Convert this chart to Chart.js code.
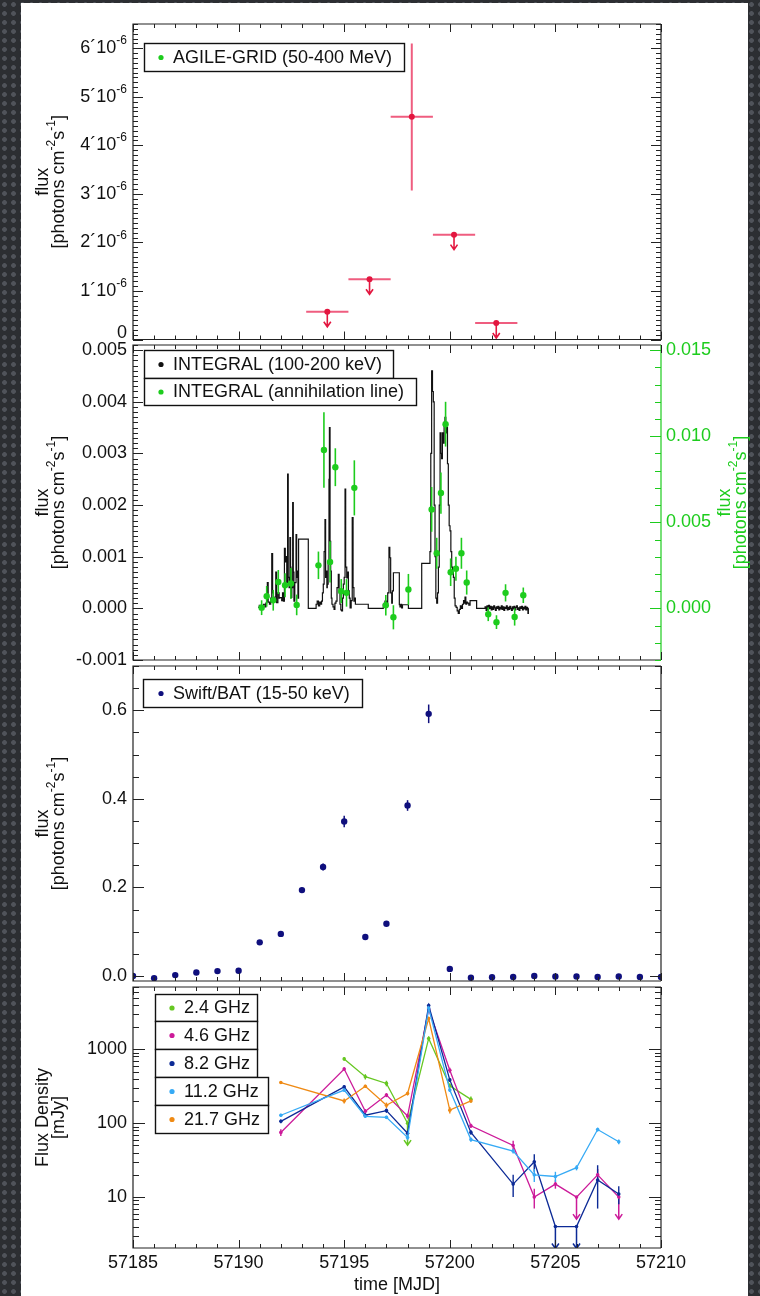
<!DOCTYPE html>
<html>
<head>
<meta charset="utf-8">
<script src="https://cdn.jsdelivr.net/npm/chart.js@4.4.1/dist/chart.umd.min.js"></script>
<style>
  html, body { margin: 0; padding: 0; }
  body {
    width: 760px; height: 1296px; position: relative; overflow: hidden;
    background-color: #2c2e32;
    background-image: radial-gradient(circle, #50535a 0, #50535a 2px, transparent 2.7px);
    background-size: 9px 9px;
  }
  #sheet { position: absolute; left: 21px; top: 3px; width: 727px; height: 1293px; background: #fff; }
  canvas { position: absolute; left: 0; top: 0; }
</style>
</head>
<body>
<div id="sheet"></div>
<canvas id="agile" width="760" height="1296"></canvas>
<canvas id="integral" width="760" height="1296"></canvas>
<canvas id="swift" width="760" height="1296"></canvas>
<canvas id="radio" width="760" height="1296"></canvas>
<script>
const FONT = "'Liberation Sans', Arial, Helvetica, sans-serif";
Chart.defaults.font.family = FONT;
Chart.defaults.font.size = 18;
Chart.defaults.color = '#111';

// ---- shared time axis ----
const X_MIN = 57185, X_MAX = 57210;
const xTickLabels = [57185, 57190, 57195, 57200, 57205, 57210];

// ---- AGILE-GRID (50-400 MeV) ----
const agileMjd = [57194.2, 57196.2, 57198.2, 57200.2, 57202.2];
const agileFlux = [0.57e-6, 1.24e-6, 4.59e-6, 2.16e-6, 0.34e-6];
const agileHalfBin = [1, 1, 1, 1, 1];
const agileLow = [null, null, 3.07e-6, null, null];
const agileHigh = [null, null, 6.1e-6, null, null];
const agileUL = [true, true, false, true, true];
const agileTicks = [0, 1e-6, 2e-6, 3e-6, 4e-6, 5e-6, 6e-6];
const agileTickMant = ['0', '1', '2', '3', '4', '5', '6'];

// ---- INTEGRAL 100-200 keV light curve (days after MJD 57185) ----
const intDay = [
  5.93, 5.98, 6.03, 6.08, 6.13, 6.18, 6.25, 6.29, 6.33, 6.36, 6.40, 6.46, 6.52, 6.57, 6.61, 6.65,
  6.72, 6.76, 6.80, 6.86, 6.92, 6.96, 7.04, 7.08, 7.12, 7.17, 7.21, 7.23, 7.28, 7.32, 7.35, 7.39,
  7.43, 7.46, 7.48, 7.52, 7.56, 7.59, 7.62, 7.66, 7.72, 7.75, 7.78, 7.81, 7.84, 8.30, 8.67, 8.72,
  8.78, 8.84, 8.88, 8.93, 8.97, 9.01, 9.05, 9.09, 9.12, 9.14, 9.18, 9.20, 9.24, 9.28, 9.30, 9.33,
  9.36, 9.39, 9.42, 9.47, 9.52, 9.56, 9.61, 9.66, 9.72, 9.76, 9.80, 9.84, 9.88, 9.92, 9.96, 10.00,
  10.04, 10.07, 10.12, 10.16, 10.20, 10.24, 10.28, 10.33, 10.38, 10.42, 10.46, 10.50, 10.53, 11.14,
  11.85, 11.93, 12.01, 12.06, 12.12, 12.16, 12.20, 12.25, 12.28, 12.33, 12.61, 12.64, 12.68, 12.72,
  12.76, 13.04, 13.67, 14.06, 14.10, 14.14, 14.18, 14.22, 14.26, 14.30, 14.34, 14.38, 14.42, 14.46,
  14.50, 14.54, 14.58, 14.61, 14.65, 14.69, 14.73, 14.77, 14.81, 14.85, 14.89, 14.93, 14.97, 15.01,
  15.05, 15.09, 15.13, 15.17, 15.21, 15.25, 15.30, 15.35, 15.40, 15.45, 15.50, 15.56, 15.60, 15.65,
  15.70, 15.72, 15.76, 15.80, 15.83, 15.90, 15.96, 16.27, 16.67, 16.72, 16.76, 16.80, 16.84, 16.88,
  16.92, 16.96, 17.00, 17.04, 17.08, 17.12, 17.16, 17.20, 17.24, 17.28, 17.32, 17.36, 17.40, 17.44,
  17.48, 17.52, 17.56, 17.60, 17.64, 17.68, 17.72, 17.76, 17.80, 17.84, 17.88, 17.92, 17.96, 18.00,
  18.04, 18.08, 18.12, 18.16, 18.20, 18.24, 18.28, 18.32, 18.36, 18.40, 18.44, 18.48, 18.52, 18.56,
  18.60, 18.64, 18.68, 18.70, 18.72
];
const intFlux = [
  0.00002, 0.00006, -0.00002, 0.00005, 0.00001, 0.00008, 0.00003, 0.00010, 0.00014, 0.00050, 0.00012, 0.00008, 0.00020, 0.00106, 0.00030, 0.00015,
  0.00022, 0.00070, 0.00011, 0.00030, 0.00020, 0.00021, 0.00015, 0.00030, 0.00014, 0.00116, 0.00090, 0.00100, 0.00050, 0.00260, 0.00060, 0.00040,
  0.00137, 0.00080, 0.00021, 0.00040, 0.00205, 0.00070, 0.00014, 0.00050, 0.00143, 0.00060, 0.00072, 0.00020, 0.00134, 0.00000, 0.00008, 0.00014,
  0.00005, 0.00012, 0.00008, 0.00014, 0.00030, 0.00047, 0.00110, 0.00172, 0.00060, 0.00072, 0.00040, 0.00047, 0.00090, 0.00250, 0.00350, 0.00130,
  0.00072, 0.00020, 0.00008, 0.00003, -0.00002, 0.00010, 0.00014, 0.00040, 0.00066, 0.00030, 0.00008, -0.00003, -0.00005, 0.00020, 0.00047, 0.00060,
  0.00231, 0.00080, 0.00059, 0.00070, 0.00034, 0.00020, 0.00001, 0.00015, 0.00176, 0.00040, 0.00014, 0.00020, 0.00008, 0.00000,
  0.00008, 0.00014, 0.00010, 0.00030, 0.00118, 0.00098, 0.00030, 0.00010, 0.00034, 0.00069, 0.00007, 0.00003, 0.00008, 0.00001,
  0.00007, 0.00000, 0.00087, 0.00110, 0.00300, 0.00460, 0.00420, 0.00400, 0.00200, 0.00100, 0.00020, 0.00010, 0.00030, 0.00080,
  0.00200, 0.00340, 0.00300, 0.00290, 0.00340, 0.00320, 0.00360, 0.00370, 0.00340, 0.00350, 0.00280, 0.00200, 0.00160, 0.00150,
  0.00110, 0.00080, 0.00070, 0.00060, 0.00020, 0.00005, 0.00002, -0.00005, -0.00010, -0.00002, 0.00005, 0.00000, 0.00008, 0.00015,
  0.00010, 0.00022, 0.00008, 0.00012, 0.00010, 0.00006, 0.00015, 0.00000, 0.00003, -0.00004, 0.00005, -0.00002, 0.00006, 0.00000,
  0.00004, -0.00003, 0.00003, -0.00002, 0.00005, 0.00001, -0.00004, 0.00003, 0.00000, 0.00004, -0.00003, 0.00002, -0.00001, 0.00005,
  -0.00002, 0.00003, -0.00004, 0.00002, 0.00000, 0.00005, -0.00003, 0.00002, -0.00002, 0.00004, 0.00000, -0.00004, 0.00003, -0.00001,
  0.00004, -0.00003, 0.00002, 0.00005, -0.00002, 0.00001, -0.00004, 0.00003, 0.00000, 0.00004, -0.00003, 0.00002, -0.00001, 0.00004,
  -0.00003, 0.00002, 0.00000, -0.00010, 0.00000
];

// ---- INTEGRAL annihilation line (right axis) ----
const annDay = [6.09, 6.33, 6.64, 6.88, 7.20, 7.48, 7.75, 8.78, 9.04, 9.33, 9.58, 9.86, 10.11, 10.48, 11.97,
  12.33, 13.04, 14.14, 14.38, 14.58, 14.80, 15.04, 15.29, 15.55, 15.80, 16.82, 17.21, 17.64, 18.07, 18.48];
const annFlux = [0.00004, 0.0007, 0.00047, 0.00153, 0.00134, 0.00144, 0.0002, 0.0025, 0.0092, 0.0027, 0.0082, 0.0010, 0.0009, 0.0070, 0.00018,
  -0.00052, 0.0011, 0.00575, 0.0032, 0.0067, 0.0107, 0.0021, 0.0023, 0.0032, 0.0015, -0.00034, -0.0008, 0.0009, -0.0005, 0.00076];
const annErr = [0.00043, 0.0006, 0.0006, 0.0007, 0.0007, 0.0009, 0.0006, 0.0008, 0.0022, 0.0012, 0.0011, 0.0007, 0.0008, 0.0016, 0.0006,
  0.0007, 0.0009, 0.0013, 0.0009, 0.0012, 0.0013, 0.0008, 0.0007, 0.0009, 0.0007, 0.0004, 0.0004, 0.0005, 0.0005, 0.00045];
const intLeftTicks = [-0.001, 0, 0.001, 0.002, 0.003, 0.004, 0.005];
const annRightTicks = [0, 0.005, 0.010, 0.015];

// ---- Swift/BAT (15-50 keV) ----
const batMjd = [57185, 57186, 57187, 57188, 57189, 57190, 57191, 57192, 57193, 57194, 57195, 57196, 57197,
  57198, 57199, 57200, 57201, 57202, 57203, 57204, 57205, 57206, 57207, 57208, 57209, 57210];
const batFlux = [0.000, -0.005, 0.002, 0.008, 0.011, 0.012, 0.076, 0.095, 0.194, 0.246, 0.349, 0.088, 0.118,
  0.385, 0.592, 0.016, -0.004, -0.003, -0.002, 0.000, -0.001, -0.001, -0.002, -0.001, -0.002, -0.002];
const batErr = [0.003, 0.003, 0.003, 0.003, 0.003, 0.003, 0.004, 0.004, 0.005, 0.008, 0.013, 0.004, 0.004,
  0.012, 0.021, 0.003, 0.003, 0.003, 0.003, 0.003, 0.003, 0.003, 0.003, 0.003, 0.003, 0.003];
const batTicks = [0, 0.2, 0.4, 0.6];

// ---- Radio flux densities (mJy) ----
const r24Day = [57195, 57196, 57197, 57198, 57199, 57200, 57201];
const r24Flux = [740, 425, 345, 100, 1400, 320, 210];
const r24Err = [40, 35, 30, 0, 100, 25, 20];
const r24UL = [0, 0, 0, 1, 0, 0, 0];

const r46Day = [57192, 57195, 57196, 57197, 57198, 57199, 57200, 57201, 57203, 57204, 57205, 57206, 57207, 57208];
const r46Flux = [75, 540, 145, 240, 125, 3500, 520, 92, 50, 10, 15, 10, 20, 10];
const r46Err = [8, 30, 10, 15, 10, 200, 40, 6, 8, 3, 2, 0, 4, 0];
const r46UL = [0, 0, 0, 0, 0, 0, 0, 0, 0, 0, 0, 1, 0, 1];

const r82Day = [57192, 57195, 57196, 57197, 57198, 57199, 57200, 57201, 57203, 57204, 57205, 57206, 57207, 57208];
const r82Flux = [106, 310, 128, 148, 73, 3900, 385, 75, 15, 30, 4, 4, 17, 11];
const r82Err = [6, 15, 8, 10, 6, 250, 25, 5, 5, 8, 0, 0, 10, 3];
const r82UL = [0, 0, 0, 0, 0, 0, 0, 0, 0, 0, 1, 1, 0, 0];

const r112Day = [57192, 57195, 57196, 57197, 57198, 57199, 57200, 57201, 57203, 57204, 57205, 57206, 57207, 57208];
const r112Flux = [128, 280, 124, 120, 64, 3600, 280, 60, 42, 20, 19, 25, 82, 56];
const r112Err = [6, 15, 6, 6, 5, 250, 15, 4, 3, 4, 3, 2, 5, 4];
const r112UL = [0, 0, 0, 0, 0, 0, 0, 0, 0, 0, 0, 0, 0, 0];

const r217Day = [57192, 57195, 57196, 57197, 57198, 57199, 57200, 57201];
const r217Flux = [355, 200, 316, 175, 252, 2600, 150, 200];
const r217Err = [15, 15, 15, 15, 15, 150, 15, 10];
const r217UL = [0, 0, 0, 0, 0, 0, 0, 0];

const radioNames = ['2.4 GHz', '4.6 GHz', '8.2 GHz', '11.2 GHz', '21.7 GHz'];
const radioTicks = [10, 100, 1000];

// ---- colours ----
const AGILE_RED = '#e3163f', AGILE_BAR = '#ef5d7f';
const GREEN = '#1dcc1d';
const NAVY = '#0f0f7d';
const radioColors = ['#66c722', '#cc1a99', '#0c2a96', '#36aaf5', '#ef8a14'];
const FRAME = '#222';

// ---- layout (pixels of the page) ----
const LEFT_W = 133, RIGHT_W = 99, PAGE_H = 1296;

// ---------- drawing helpers ----------
function steps(lo, hi, step) {
  const out = [];
  for (let i = Math.ceil(lo / step - 1e-9); i * step <= hi + step * 1e-6; i++) out.push(i * step);
  return out;
}
const xMinor = steps(X_MIN, X_MAX, 1);

function tickMarks(ctx, scale, a, vals, len, side, color) {
  ctx.save();
  ctx.strokeStyle = color;
  ctx.lineWidth = 1;
  ctx.beginPath();
  vals.forEach(v => {
    const p = scale.getPixelForValue(v);
    if (side === 'top' || side === 'bottom') {
      if (p < a.left - 0.5 || p > a.right + 0.5) return;
      const q = Math.round(p) + 0.5;
      if (side === 'bottom') { ctx.moveTo(q, a.bottom); ctx.lineTo(q, a.bottom - len); }
      else { ctx.moveTo(q, a.top); ctx.lineTo(q, a.top + len); }
    } else {
      if (p < a.top - 0.5 || p > a.bottom + 0.5) return;
      const q = Math.round(p) + 0.5;
      if (side === 'left') { ctx.moveTo(a.left, q); ctx.lineTo(a.left + len, q); }
      else { ctx.moveTo(a.right, q); ctx.lineTo(a.right - len, q); }
    }
  });
  ctx.stroke();
  ctx.restore();
}

function xTicks(ctx, chart) {
  const a = chart.chartArea, xs = chart.scales.x;
  ['top', 'bottom'].forEach(side => {
    tickMarks(ctx, xs, a, xMinor, 4, side, FRAME);
    tickMarks(ctx, xs, a, xTickLabels, 8, side, FRAME);
  });
}

function frame(ctx, a, rightColor) {
  ctx.save();
  ctx.lineWidth = 1.2;
  ctx.strokeStyle = FRAME;
  ctx.beginPath();
  ctx.moveTo(a.right, a.top); ctx.lineTo(a.left, a.top);
  ctx.lineTo(a.left, a.bottom); ctx.lineTo(a.right, a.bottom);
  ctx.stroke();
  ctx.strokeStyle = rightColor || FRAME;
  ctx.beginPath(); ctx.moveTo(a.right, a.top); ctx.lineTo(a.right, a.bottom); ctx.stroke();
  ctx.restore();
}

function drawRich(ctx, segs, x, y, align, color, size) {
  const big = size + 'px ' + FONT, small = Math.round(size * 0.68) + 'px ' + FONT;
  let w = 0;
  segs.forEach(s => { ctx.font = s.sup ? small : big; s.w = ctx.measureText(s.t).width; w += s.w; });
  let cx = align === 'right' ? x - w : align === 'center' ? x - w / 2 : x;
  ctx.fillStyle = color;
  ctx.textAlign = 'left';
  ctx.textBaseline = 'middle';
  segs.forEach(s => {
    ctx.font = s.sup ? small : big;
    ctx.fillText(s.t, cx, s.sup ? y - size * 0.4 : y);
    cx += s.w;
  });
}

const unitSegs = [{ t: '[photons cm' }, { t: '-2', sup: true }, { t: 's' }, { t: '-1', sup: true }, { t: ']' }];

function yTitle(ctx, cx, cy, line1, line2Segs, color) {
  ctx.save();
  ctx.translate(cx, cy);
  ctx.rotate(-Math.PI / 2);
  drawRich(ctx, [{ t: line1 }], 0, -8, 'center', color, 18);
  drawRich(ctx, line2Segs, 0, 8, 'center', color, 18);
  ctx.restore();
}

function legendBox(ctx, x0, y0, x1, y1, dotX, dotColor, text) {
  ctx.save();
  ctx.fillStyle = '#fff';
  ctx.fillRect(x0, y0, x1 - x0, y1 - y0);
  ctx.strokeStyle = '#111';
  ctx.lineWidth = 1.4;
  ctx.strokeRect(x0 + 0.5, y0 + 0.5, x1 - x0, y1 - y0);
  ctx.fillStyle = dotColor;
  ctx.beginPath();
  ctx.arc(dotX, (y0 + y1) / 2 + 0.5, 2.6, 0, Math.PI * 2);
  ctx.fill();
  ctx.font = '18px ' + FONT;
  ctx.fillStyle = '#111';
  ctx.textAlign = 'left';
  ctx.textBaseline = 'middle';
  ctx.fillText(text, dotX + 12, (y0 + y1) / 2 + 1);
  ctx.restore();
}

function arrowDown(ctx, x, y, len, color, width) {
  ctx.save();
  ctx.strokeStyle = color;
  ctx.lineWidth = width;
  ctx.beginPath();
  ctx.moveTo(x, y); ctx.lineTo(x, y + len);
  ctx.moveTo(x - 3.5, y + len - 5); ctx.lineTo(x, y + len); ctx.lineTo(x + 3.5, y + len - 5);
  ctx.stroke();
  ctx.restore();
}

function vBar(ctx, x, y0, y1, color, width) {
  ctx.save();
  ctx.strokeStyle = color;
  ctx.lineWidth = width;
  ctx.beginPath(); ctx.moveTo(x, y0); ctx.lineTo(x, y1); ctx.stroke();
  ctx.restore();
}

function clipArea(ctx, a) {
  ctx.beginPath();
  ctx.rect(a.left, a.top, a.right - a.left, a.bottom - a.top);
  ctx.clip();
}

// ---------- common option builders ----------
function baseOptions(top, bottom, right, scales) {
  return {
    responsive: false, animation: false, devicePixelRatio: 1, events: [],
    layout: { padding: { top: top, bottom: bottom, left: 0, right: right } },
    plugins: { legend: { display: false }, tooltip: { enabled: false } },
    scales: scales
  };
}

function hiddenX() {
  return { type: 'linear', min: X_MIN, max: X_MAX, display: false };
}

function leftAxis(type, min, max, tickVals, fmt, showLabels) {
  return {
    type: type, position: 'left', min: min, max: max,
    grid: { display: false, drawTicks: false },
    border: { display: false },
    ticks: { display: showLabels, padding: 6, color: '#111', font: { size: 18 }, callback: fmt },
    afterBuildTicks: s => { s.ticks = tickVals.map(v => ({ value: v })); },
    afterFit: s => { s.width = LEFT_W; }
  };
}

function points(xArr, yArr) {
  return xArr.map((x, i) => ({ x: x, y: yArr[i] }));
}

// ================= Panel 1: AGILE =================
new Chart(document.getElementById('agile'), {
  type: 'scatter',
  data: {
    datasets: [{
      label: 'AGILE-GRID (50-400 MeV)',
      data: points(agileMjd, agileFlux),
      pointRadius: 3, pointBackgroundColor: AGILE_RED, pointBorderWidth: 0
    }]
  },
  options: baseOptions(24, PAGE_H - 339.5, RIGHT_W, {
    x: hiddenX(),
    y: leftAxis('linear', 0, 6.5e-6, agileTicks, () => '', false)
  }),
  plugins: [{
    id: 'agileDecor',
    beforeDatasetsDraw(chart) {
      const { ctx, chartArea: a, scales: { x: xs, y: ys } } = chart;
      ctx.save();
      clipArea(ctx, a);
      agileMjd.forEach((t, i) => {
        const px = xs.getPixelForValue(t), py = ys.getPixelForValue(agileFlux[i]);
        ctx.strokeStyle = AGILE_BAR;
        ctx.lineWidth = 2;
        ctx.beginPath();
        ctx.moveTo(xs.getPixelForValue(t - agileHalfBin[i]), py);
        ctx.lineTo(xs.getPixelForValue(t + agileHalfBin[i]), py);
        ctx.stroke();
        if (agileLow[i] !== null) vBar(ctx, px, ys.getPixelForValue(agileLow[i]), ys.getPixelForValue(agileHigh[i]), AGILE_BAR, 2);
        if (agileUL[i]) arrowDown(ctx, px, py, 15, AGILE_RED, 1.6);
      });
      ctx.restore();
    },
    afterDraw(chart) {
      const { ctx, chartArea: a, scales: { x: xs, y: ys } } = chart;
      frame(ctx, a);
      xTicks(ctx, chart);
      const minor = steps(0, 6.5e-6, 1e-7);
      ['left', 'right'].forEach(side => {
        tickMarks(ctx, ys, a, minor, 5, side, FRAME);
        tickMarks(ctx, ys, a, agileTicks, 10, side, FRAME);
      });
      agileTicks.forEach((v, i) => {
        const y = ys.getPixelForValue(v);
        if (v === 0) drawRich(ctx, [{ t: '0' }], 127, y - 6, 'right', '#111', 18);
        else drawRich(ctx, [{ t: agileTickMant[i] + '\u00b410' }, { t: '-6', sup: true }], 127, y, 'right', '#111', 18);
      });
      yTitle(ctx, 51, (a.top + a.bottom) / 2, 'flux', unitSegs, '#111');
      legendBox(ctx, 144, 43, 404, 71, 161, GREEN, 'AGILE-GRID (50-400 MeV)');
    }
  }]
});

// ================= Panel 2: INTEGRAL =================
new Chart(document.getElementById('integral'), {
  type: 'scatter',
  data: {
    datasets: [{
      type: 'scatter',
      label: 'INTEGRAL (annihilation line)',
      data: points(annDay.map(d => X_MIN + d), annFlux),
      yAxisID: 'y2', order: 0,
      pointRadius: 3.2, pointBackgroundColor: GREEN, pointBorderWidth: 0
    }, {
      type: 'line',
      label: 'INTEGRAL (100-200 keV)',
      data: points(intDay.map(d => X_MIN + d), intFlux),
      yAxisID: 'y', order: 1,
      stepped: true, showLine: true, pointRadius: 0,
      borderColor: '#111', borderWidth: 1.2, fill: false
    }]
  },
  options: baseOptions(345, PAGE_H - 660, 0, {
    x: hiddenX(),
    y: leftAxis('linear', -0.001, 0.0051, intLeftTicks, v => v.toFixed(3), true),
    y2: {
      type: 'linear', position: 'right', min: -0.003, max: 0.0153,
      grid: { display: false, drawTicks: false },
      border: { display: false },
      ticks: { padding: 5, color: GREEN, font: { size: 18 }, callback: v => v.toFixed(3) },
      afterBuildTicks: s => { s.ticks = annRightTicks.map(v => ({ value: v })); },
      afterFit: s => { s.width = RIGHT_W; }
    }
  }),
  plugins: [{
    id: 'integralDecor',
    afterDatasetDraw(chart, args) {
      if (args.index !== 1) return;
      const { ctx, chartArea: a, scales: { x: xs, y2: ys } } = chart;
      ctx.save();
      clipArea(ctx, a);
      annDay.forEach((d, i) => {
        const px = xs.getPixelForValue(X_MIN + d);
        vBar(ctx, px, ys.getPixelForValue(annFlux[i] - annErr[i]), ys.getPixelForValue(annFlux[i] + annErr[i]), GREEN, 1.6);
      });
      ctx.restore();
    },
    afterDraw(chart) {
      const { ctx, chartArea: a, scales: { y: ys, y2: ys2 } } = chart;
      frame(ctx, a, GREEN);
      xTicks(ctx, chart);
      tickMarks(ctx, ys, a, steps(-0.001, 0.0051, 0.0001), 5, 'left', FRAME);
      tickMarks(ctx, ys, a, intLeftTicks, 10, 'left', FRAME);
      tickMarks(ctx, ys2, a, steps(-0.003, 0.0153, 0.001), 6, 'right', GREEN);
      tickMarks(ctx, ys2, a, annRightTicks, 11, 'right', GREEN);
      yTitle(ctx, 51, (a.top + a.bottom) / 2, 'flux', unitSegs, '#111');
      yTitle(ctx, 733, (a.top + a.bottom) / 2, 'flux', unitSegs, GREEN);
      legendBox(ctx, 144, 350, 393, 378, 161, '#111', 'INTEGRAL (100-200 keV)');
      legendBox(ctx, 144, 378, 416, 405, 161, GREEN, 'INTEGRAL (annihilation line)');
    }
  }]
});

// ================= Panel 3: Swift/BAT =================
new Chart(document.getElementById('swift'), {
  type: 'scatter',
  data: {
    datasets: [{
      label: 'Swift/BAT (15-50 keV)',
      data: points(batMjd, batFlux),
      pointRadius: 3.2, pointBackgroundColor: NAVY, pointBorderWidth: 0
    }]
  },
  options: baseOptions(666, PAGE_H - 981, RIGHT_W, {
    x: hiddenX(),
    y: leftAxis('linear', -0.0113, 0.7, batTicks, v => v.toFixed(1), true)
  }),
  plugins: [{
    id: 'swiftDecor',
    beforeDatasetsDraw(chart) {
      const { ctx, chartArea: a, scales: { x: xs, y: ys } } = chart;
      ctx.save();
      clipArea(ctx, a);
      batMjd.forEach((t, i) => {
        vBar(ctx, xs.getPixelForValue(t), ys.getPixelForValue(batFlux[i] - batErr[i]), ys.getPixelForValue(batFlux[i] + batErr[i]), NAVY, 1.5);
      });
      ctx.restore();
    },
    afterDraw(chart) {
      const { ctx, chartArea: a, scales: { y: ys } } = chart;
      frame(ctx, a);
      xTicks(ctx, chart);
      ['left', 'right'].forEach(side => {
        tickMarks(ctx, ys, a, steps(0, 0.7, 0.05), 6, side, FRAME);
        tickMarks(ctx, ys, a, batTicks, 11, side, FRAME);
      });
      yTitle(ctx, 51, (a.top + a.bottom) / 2, 'flux', unitSegs, '#111');
      legendBox(ctx, 143, 679, 362, 707, 161, NAVY, 'Swift/BAT (15-50 keV)');
    }
  }]
});

// ================= Panel 4: Radio =================
const radioSeries = [
  [r24Day, r24Flux, r24Err, r24UL],
  [r46Day, r46Flux, r46Err, r46UL],
  [r82Day, r82Flux, r82Err, r82UL],
  [r112Day, r112Flux, r112Err, r112UL],
  [r217Day, r217Flux, r217Err, r217UL]
];
const radioOrder = [4, 3, 2, 0, 1];
const logMinor = [];
[1, 10, 100, 1000].forEach(d => { for (let k = 2; k <= 9; k++) logMinor.push(k * d); });

new Chart(document.getElementById('radio'), {
  type: 'line',
  data: {
    datasets: radioSeries.map((s, k) => ({
      label: radioNames[k],
      data: points(s[0], s[1]),
      order: radioOrder[k],
      borderColor: radioColors[k], borderWidth: 1.3,
      pointRadius: 1.8, pointBackgroundColor: radioColors[k], pointBorderWidth: 0,
      fill: false, tension: 0
    }))
  },
  options: baseOptions(987, 0, RIGHT_W, {
    x: {
      type: 'linear', min: X_MIN, max: X_MAX, position: 'bottom',
      grid: { display: false, drawTicks: false },
      border: { display: false },
      ticks: { padding: 4, color: '#111', font: { size: 18 }, maxRotation: 0, autoSkip: false, callback: v => String(v) },
      afterBuildTicks: s => { s.ticks = xTickLabels.map(v => ({ value: v })); },
      afterFit: s => { s.height = 48; },
      title: { display: true, text: 'time [MJD]', color: '#111', font: { size: 18 }, padding: { top: 0, bottom: 0 } }
    },
    y: leftAxis('logarithmic', 2.05, 6950, radioTicks, v => String(v), true)
  }),
  plugins: [{
    id: 'radioDecor',
    beforeDatasetsDraw(chart) {
      const { ctx, chartArea: a, scales: { x: xs, y: ys } } = chart;
      ctx.save();
      clipArea(ctx, a);
      radioSeries.forEach((s, k) => {
        s[0].forEach((t, i) => {
          const px = xs.getPixelForValue(t), py = ys.getPixelForValue(s[1][i]);
          if (s[2][i] > 0) vBar(ctx, px, ys.getPixelForValue(s[1][i] - s[2][i]), ys.getPixelForValue(s[1][i] + s[2][i]), radioColors[k], 1.4);
          if (s[3][i]) arrowDown(ctx, px, py, 22, radioColors[k], 1.5);
        });
      });
      ctx.restore();
    },
    afterDraw(chart) {
      const { ctx, chartArea: a, scales: { y: ys } } = chart;
      frame(ctx, a);
      xTicks(ctx, chart);
      ['left', 'right'].forEach(side => {
        tickMarks(ctx, ys, a, logMinor, 6, side, FRAME);
        tickMarks(ctx, ys, a, radioTicks, 12, side, FRAME);
      });
      yTitle(ctx, 51, (a.top + a.bottom) / 2, 'Flux Density', [{ t: '[mJy]' }], '#111');
      const boxes = [[994, 1021, 257], [1021, 1049, 257], [1049, 1077, 257], [1077, 1105, 268], [1105, 1133, 268]];
      boxes.forEach((b, k) => legendBox(ctx, 155, b[0], b[2], b[1], 172, radioColors[k], radioNames[k]));
    }
  }]
});
</script>
</body>
</html>
